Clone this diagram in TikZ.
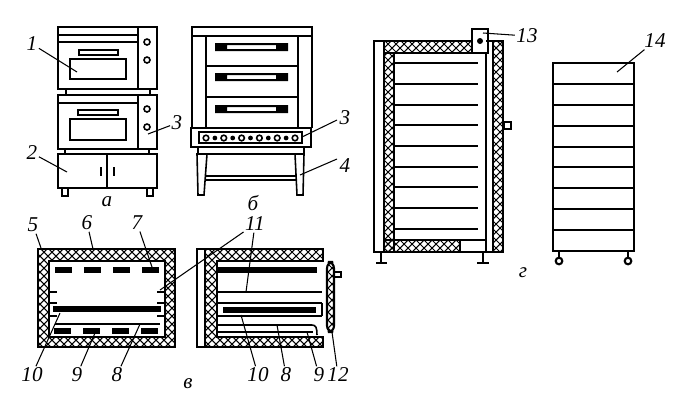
\documentclass[tikz,border=0pt]{standalone}
\usepackage{fontspec}
\setmainfont{Liberation Serif}
\usepackage{tikz}
\newcommand\insul{}
\def\insul[#1](#2,#3)(#4,#5){% \insul[outline options](corner)(corner)
\begin{scope}
\clip[#1] (#2,#3) rectangle (#4,#5);
\foreach \c in {-400,-392,...,800} {
	\draw[line width=0.6pt] (\c,0) -- ++(420,420);
	\draw[line width=0.6pt] (\c,0) -- ++(-420,420);
}
\end{scope}
\draw[line width=1.2pt,#1] (#2,#3) rectangle (#4,#5);
}
\begin{document}
\begin{tikzpicture}[x=0.02cm,y=-0.02cm,
	line width=0.9pt,
	heavy/.style={line width=1.2pt},
	thin line/.style={line width=0.7pt},
	bar/.style={fill=black,draw=none},
	lbl/.style={font=\itshape\fontsize{12}{12}\selectfont,inner sep=0.5pt},
	leader/.style={line width=0.6pt}]
	\useasboundingbox (0,0) rectangle (685,400);
	%% a: upper oven
	\draw[heavy] (58,27) rectangle (157,89);
	\draw[heavy] (138,27) -- (138,89);
	\draw (58,35) -- (138,35);
	\draw (58,42) -- (138,42);
	\draw (79,50) rectangle (118,55);
	\draw[heavy] (70,59) rectangle (126,79);
	\draw (147,42) circle[radius=3];
	\draw (147,60) circle[radius=3];
	\draw (66,89) rectangle (150,95);
	%% a: lower oven
	\draw[heavy] (58,95) rectangle (157,149);
	\draw[heavy] (138,95) -- (138,149);
	\draw (58,103) -- (138,103);
	\draw (78,110) rectangle (118,115);
	\draw[heavy] (70,119) rectangle (126,140);
	\draw (147,109) circle[radius=3];
	\draw (147,127) circle[radius=3];
	\draw (65,149) rectangle (149,154);
	%% a: cabinet
	\draw[heavy] (58,154) rectangle (157,188);
	\draw (107,154) -- (107,188);
	\draw (101,167) -- (101,176);
	\draw (114,167) -- (114,176);
	\draw (62,188) rectangle (68,196);
	\draw (147,188) rectangle (153,196);
	%% b: oven body
	\draw[heavy] (192,27) rectangle (312,36);
	\draw[heavy] (192,36) -- (192,128);
	\draw[heavy] (312,36) -- (312,128);
	\draw[heavy] (206,36) rectangle (298,128);
	\draw (206,66) -- (298,66);
	\draw (206,97) -- (298,97);
	\foreach \y in {43,73,105} {
		\fill[bar,even odd rule] (215,\y) rectangle (288,\y+8) (227,\y+2) rectangle (276,\y+6);
	}
	%% b: control panel
	\draw[heavy] (191,128) rectangle (311,147);
	\draw[heavy] (199,132) rectangle (302,143);
	\foreach \i in {0,2,...,10} {
		\draw (206+\i*8.9,138) circle[radius=2.8];
	}
	\foreach \i in {1,3,...,9} {
		\fill (206+\i*8.9,138) circle[radius=2.4];
	}
	%% b: stand
	\draw (198,147) rectangle (304,154);
	\draw (197,154) -- (207,154) -- (204,195) -- (198,195) -- cycle;
	\draw (295,154) -- (304,154) -- (303,195) -- (297,195) -- cycle;
	\draw (205,176) -- (296,176);
	\draw (205,180) -- (296,180);
	%% c: front section
	\insul[](38,249)(175,347);
	\fill[white] (49,261) rectangle (165,337);
	\draw[heavy] (49,261) rectangle (165,337);
	\foreach \x in {55,84,113,142} {
		\fill[bar] (\x,267) rectangle (\x+17,273);
	}
	\foreach \x in {54,83,112,141} {
		\fill[bar] (\x,328) rectangle (\x+17,334);
	}
	\fill[bar] (53,306) rectangle (161,312);
	\draw (55,324) -- (160,324);
	\foreach \y in {292,303,316} {
		\draw[thin line] (49,\y) -- (57,\y);
		\draw[thin line] (157,\y) -- (165,\y);
	}
	%% c: side section
	\draw[heavy] (197,249) rectangle (205,347);
	\insul[](205,249)(323,347);
	\fill[white] (217,261) rectangle (323.5,337);
	\draw[heavy] (323.5,261) -- (217,261) -- (217,337) -- (323.5,337);
	\fill[bar] (217,267) rectangle (317,273);
	\draw (217,292) -- (322,292);
	\draw (217,303) -- (322,303);
	\draw[thin line] (322,303) -- (322,316);
	\fill[bar] (223,307) rectangle (316,313);
	\draw (217,316) -- (322,316);
	\draw (217,325) -- (312,325) .. controls (316,325) and (317,328) .. (317,335);
	\draw[heavy] (217,332) -- (313,332);
	\insul[rounded corners=3.5](327,262)(334,332);
	\draw (334,272) rectangle (341,277);
	%% d: proofing cabinet
	\draw[heavy] (374,41) rectangle (384,252);
	\insul[](384,41)(472,53);
	\insul[](384,53)(394,252);
	\insul[](384,240)(460,252);
	\draw[heavy] (460,240) rectangle (486,252);
	\draw[heavy] (394,53) -- (472,53);
	\draw[heavy] (486,53) -- (486,240);
	\draw[heavy] (486,41) -- (493,41);
	\draw[heavy] (486,252) -- (493,252);
	\insul[](493,41)(503,252);
	\draw[heavy] (472,29) rectangle (488,53);
	\fill (480,41) circle[radius=3];
	\draw (504,122) rectangle (511,129);
	\foreach \y in {63,84,105,125,146,167,187,208,229} {
		\draw (395,\y) -- (478,\y);
	}
	\draw (381,252) -- (381,263);
	\draw[heavy] (376,263) -- (387,263);
	\draw (483,252) -- (483,263);
	\draw[heavy] (477,263) -- (489,263);
	%% d: trolley
	\draw[heavy] (553,63) rectangle (634,251);
	\foreach \y in {84,105,126,147,167,188,209,230} {
		\draw (553,\y) -- (634,\y);
	}
	\draw (559,251) -- (559,258);
	\draw (628,251) -- (628,258);
	\draw[heavy] (559,261) circle[radius=3.3];
	\draw[heavy] (628,261) circle[radius=3.3];
	%% captions
	\node[lbl] (capa) at (107,202) {а};
	\node[lbl] (capb) at (253,203) {б};
	\node[lbl] (capc) at (188,384) {в};
	\node[lbl] (capd) at (523,273) {г};
	%% numbers
	\node[lbl] (n1) at (32,44) {1};
	\node[lbl] (n2) at (32,153) {2};
	\node[lbl] (n3a) at (177,123) {3};
	\node[lbl] (n3b) at (345,118) {3};
	\node[lbl] (n4) at (345,166) {4};
	\node[lbl] (n5) at (33,225) {5};
	\node[lbl] (n6) at (87,223) {6};
	\node[lbl] (n7) at (137,223) {7};
	\node[lbl] (n11) at (255,224) {11};
	\node[lbl] (n10a) at (32,375) {10};
	\node[lbl] (n9a) at (77,375) {9};
	\node[lbl] (n8a) at (117,375) {8};
	\node[lbl] (n10b) at (258,375) {10};
	\node[lbl] (n8b) at (286,375) {8};
	\node[lbl] (n9b) at (319,375) {9};
	\node[lbl] (n12) at (338,375) {12};
	\node[lbl] (n13) at (527,36) {13};
	\node[lbl] (n14) at (655,41) {14};
	%% leader ends
	\coordinate (e1) at (77,72);
	\coordinate (e2) at (67,172);
	\coordinate (e3a) at (148,134);
	\coordinate (s3b) at (337,120);
	\coordinate (e3b) at (302,137);
	\coordinate (s4) at (337,159);
	\coordinate (e4) at (300,175);
	\coordinate (e5) at (41,248);
	\coordinate (e6) at (93,249);
	\coordinate (e7) at (153,270);
	\coordinate (e11a) at (160,290);
	\coordinate (e11b) at (246,292);
	\coordinate (e10a) at (60,313);
	\coordinate (e9a) at (95,333);
	\coordinate (e8a) at (140,324);
	\coordinate (e10b) at (241,315);
	\coordinate (e8b) at (277,325);
	\coordinate (e9b) at (307,332);
	\coordinate (e12) at (332,332);
	\coordinate (e13) at (483,33);
	\coordinate (e14) at (617,72);
	%% leaders
	\draw[leader] (n1) -- (e1);
	\draw[leader] (n2) -- (e2);
	\draw[leader] (n3a) -- (e3a);
	\draw[leader] (s3b) -- (e3b);
	\draw[leader] (s4) -- (e4);
	\draw[leader] (n5) -- (e5);
	\draw[leader] (n6) -- (e6);
	\draw[leader] (n7) -- (e7);
	\draw[leader] (n11) -- (e11a);
	\draw[leader] (n11) -- (e11b);
	\draw[leader] (n10a) -- (e10a);
	\draw[leader] (n9a) -- (e9a);
	\draw[leader] (n8a) -- (e8a);
	\draw[leader] (n10b) -- (e10b);
	\draw[leader] (n8b) -- (e8b);
	\draw[leader] (n9b) -- (e9b);
	\draw[leader] (n12) -- (e12);
	\draw[leader] (n13) -- (e13);
	\draw[leader] (n14) -- (e14);
\end{tikzpicture}
\end{document}
